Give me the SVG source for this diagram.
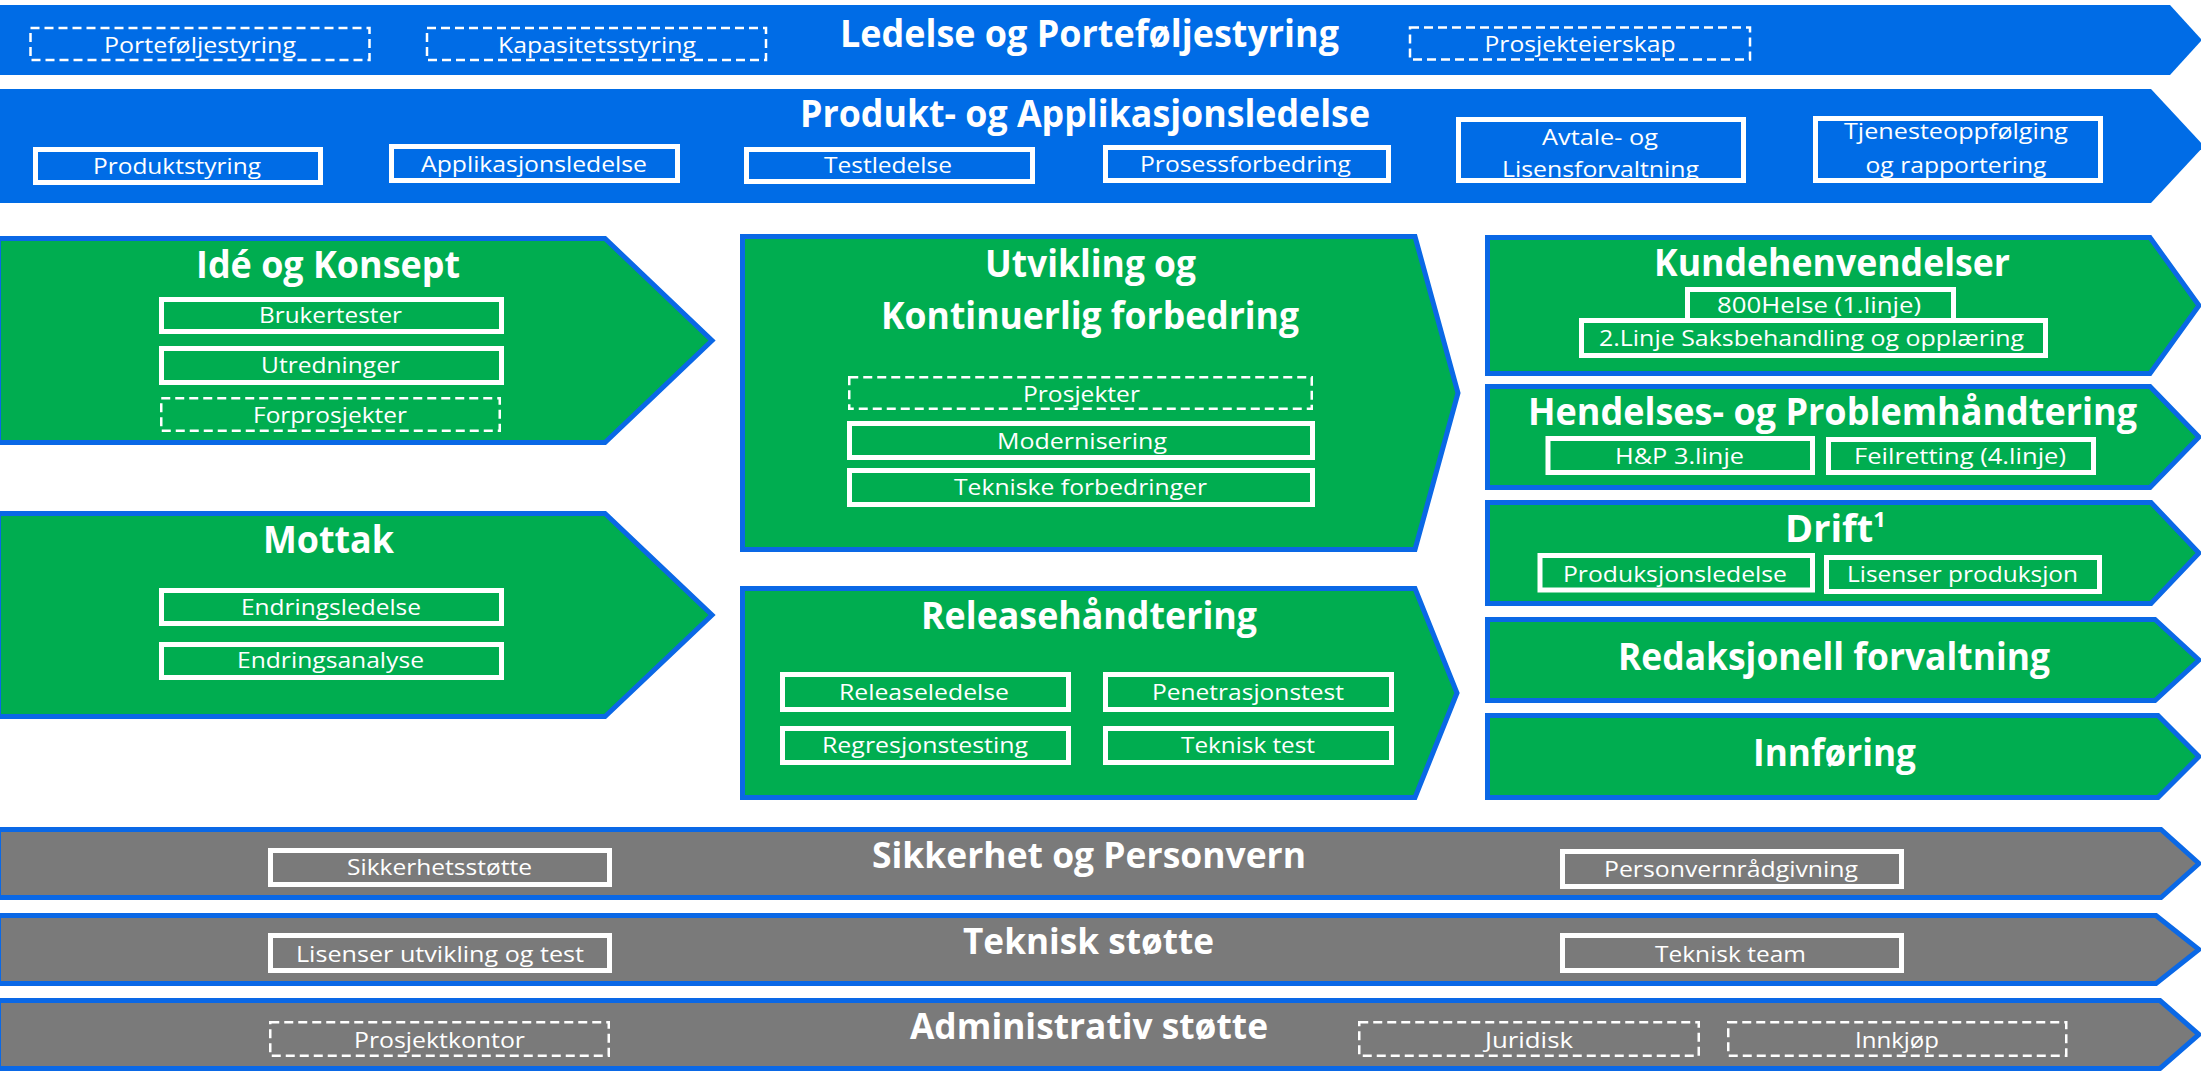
<svg xmlns="http://www.w3.org/2000/svg" width="2201" height="1073" viewBox="0 0 2201 1073">
  <style>
    .band { fill: #006CE6; }
    .proc { fill: #00AD50; stroke: #0A68E6; stroke-width: 5; }
    .supp { fill: #7A7A7A; stroke: #0A68E6; stroke-width: 5; }
    .box { fill: none; stroke: #FFFFFF; stroke-width: 5; }
    .dash { fill: none; stroke: #FFFFFF; stroke-width: 2.5; stroke-dasharray: 9 5; }
    text { font-family: "Open Sans", "Liberation Sans", sans-serif; fill: #FFFFFF; text-anchor: middle; }
    .lbl { font-size: 22px; }
    .ttl { font-size: 38px; font-weight: 700; }
  </style>
  <rect width="2201" height="1073" fill="#FFFFFF"/>

  <!-- Governance bands -->
  <g id="ledelse">
    <polygon class="band" points="-2,5 2170,5 2202,40 2170,75 -2,75"/>
    <text class="ttl" x="1089.5" y="47" textLength="499" lengthAdjust="spacingAndGlyphs">Ledelse og Porteføljestyring</text>
    <text class="lbl" x="200" y="53" textLength="192" lengthAdjust="spacingAndGlyphs">Porteføljestyring</text>
    <rect class="dash" x="30.5" y="28" width="339" height="32"/>
    <text class="lbl" x="597" y="53" textLength="198" lengthAdjust="spacingAndGlyphs">Kapasitetsstyring</text>
    <rect class="dash" x="427" y="28" width="339" height="32"/>
    <text class="lbl" x="1580" y="52" textLength="191" lengthAdjust="spacingAndGlyphs">Prosjekteierskap</text>
    <rect class="dash" x="1410" y="27.5" width="340" height="32"/>
  </g>

  <g id="produkt">
    <polygon class="band" points="-2,89 2151,89 2204,146 2151,203 -2,203"/>
    <text class="ttl" x="1085" y="127" textLength="570" lengthAdjust="spacingAndGlyphs">Produkt- og Applikasjonsledelse</text>
    <text class="lbl" x="177" y="174" textLength="168" lengthAdjust="spacingAndGlyphs">Produktstyring</text>
    <rect class="box" x="35.5" y="149.5" width="285" height="33"/>
    <text class="lbl" x="534" y="172" textLength="226" lengthAdjust="spacingAndGlyphs">Applikasjonsledelse</text>
    <rect class="box" x="391.5" y="146.5" width="286" height="34"/>
    <text class="lbl" x="888" y="173" textLength="128" lengthAdjust="spacingAndGlyphs">Testledelse</text>
    <rect class="box" x="746.5" y="149.5" width="286" height="32"/>
    <text class="lbl" x="1245.5" y="172" textLength="211" lengthAdjust="spacingAndGlyphs">Prosessforbedring</text>
    <rect class="box" x="1105.5" y="147.5" width="283" height="33"/>
    <text class="lbl" x="1600" y="145" textLength="116" lengthAdjust="spacingAndGlyphs">Avtale- og</text>
    <text class="lbl" x="1600.5" y="177" textLength="197" lengthAdjust="spacingAndGlyphs">Lisensforvaltning</text>
    <rect class="box" x="1458.5" y="119.5" width="285" height="61"/>
    <text class="lbl" x="1956" y="139" textLength="224" lengthAdjust="spacingAndGlyphs">Tjenesteoppfølging</text>
    <text class="lbl" x="1956" y="173" textLength="181" lengthAdjust="spacingAndGlyphs">og rapportering</text>
    <rect class="box" x="1815.5" y="118.5" width="285" height="62"/>
  </g>

  <!-- Left column -->
  <g id="ide-og-konsept">
    <polygon class="proc" points="-1.5,238.5 605,238.5 712,340.5 605,442.5 -1.5,442.5"/>
    <text class="ttl" x="328" y="278" textLength="264" lengthAdjust="spacingAndGlyphs">Idé og Konsept</text>
    <text class="lbl" x="330.5" y="323" textLength="143" lengthAdjust="spacingAndGlyphs">Brukertester</text>
    <rect class="box" x="161.5" y="299.5" width="340" height="32"/>
    <text class="lbl" x="330.5" y="373" textLength="139" lengthAdjust="spacingAndGlyphs">Utredninger</text>
    <rect class="box" x="161.5" y="348.5" width="340" height="34"/>
    <text class="lbl" x="330" y="423" textLength="154" lengthAdjust="spacingAndGlyphs">Forprosjekter</text>
    <rect class="dash" x="161.25" y="398.25" width="338.5" height="32.5"/>
  </g>

  <g id="mottak">
    <polygon class="proc" points="-1.5,513.5 605,513.5 712,615 605,716.5 -1.5,716.5"/>
    <text class="ttl" x="328.5" y="553" textLength="131" lengthAdjust="spacingAndGlyphs">Mottak</text>
    <text class="lbl" x="331" y="615" textLength="180" lengthAdjust="spacingAndGlyphs">Endringsledelse</text>
    <rect class="box" x="161.5" y="590.5" width="340" height="33"/>
    <text class="lbl" x="330.5" y="668" textLength="187" lengthAdjust="spacingAndGlyphs">Endringsanalyse</text>
    <rect class="box" x="161.5" y="644.5" width="340" height="33"/>
  </g>

  <!-- Middle column -->
  <g id="utvikling">
    <polygon class="proc" points="742.5,236.5 1415,236.5 1458,393 1415,549.5 742.5,549.5"/>
    <text class="ttl" x="1090.5" y="277" textLength="211" lengthAdjust="spacingAndGlyphs">Utvikling og</text>
    <text class="ttl" x="1090" y="329" textLength="418" lengthAdjust="spacingAndGlyphs">Kontinuerlig forbedring</text>
    <text class="lbl" x="1081.5" y="402" textLength="117" lengthAdjust="spacingAndGlyphs">Prosjekter</text>
    <rect class="dash" x="849.25" y="377.25" width="462.5" height="31.5"/>
    <text class="lbl" x="1082" y="449" textLength="170" lengthAdjust="spacingAndGlyphs">Modernisering</text>
    <rect class="box" x="849.5" y="423.5" width="463" height="34"/>
    <text class="lbl" x="1080.5" y="494.5" textLength="253" lengthAdjust="spacingAndGlyphs">Tekniske forbedringer</text>
    <rect class="box" x="849.5" y="470.5" width="463" height="34"/>
  </g>

  <g id="releasehandtering">
    <polygon class="proc" points="742.5,588.5 1415,588.5 1457,693 1415,797.5 742.5,797.5"/>
    <text class="ttl" x="1089" y="629" textLength="336" lengthAdjust="spacingAndGlyphs">Releasehåndtering</text>
    <text class="lbl" x="924" y="700" textLength="170" lengthAdjust="spacingAndGlyphs">Releaseledelse</text>
    <rect class="box" x="782.5" y="674.5" width="286" height="35"/>
    <text class="lbl" x="1248" y="700" textLength="192" lengthAdjust="spacingAndGlyphs">Penetrasjonstest</text>
    <rect class="box" x="1105.5" y="674.5" width="286" height="35"/>
    <text class="lbl" x="925" y="753" textLength="206" lengthAdjust="spacingAndGlyphs">Regresjonstesting</text>
    <rect class="box" x="782.5" y="728.5" width="286" height="34"/>
    <text class="lbl" x="1248" y="753" textLength="134" lengthAdjust="spacingAndGlyphs">Teknisk test</text>
    <rect class="box" x="1105.5" y="728.5" width="286" height="34"/>
  </g>

  <!-- Right column -->
  <g id="kundehenvendelser">
    <polygon class="proc" points="1487.5,237.5 2150,237.5 2199,305.5 2150,373.5 1487.5,373.5"/>
    <text class="ttl" x="1832" y="275.5" textLength="356" lengthAdjust="spacingAndGlyphs">Kundehenvendelser</text>
    <text class="lbl" x="1819" y="313" textLength="204" lengthAdjust="spacingAndGlyphs">800Helse (1.linje)</text>
    <rect class="box" x="1687.5" y="289.5" width="266" height="31"/>
    <text class="lbl" x="1811.5" y="346" textLength="425" lengthAdjust="spacingAndGlyphs">2.Linje Saksbehandling og opplæring</text>
    <rect class="box" x="1581.5" y="320.5" width="464" height="35"/>
  </g>

  <g id="hendelser">
    <polygon class="proc" points="1487.5,386.5 2150,386.5 2199,437 2150,487.5 1487.5,487.5"/>
    <text class="ttl" x="1832.5" y="425" textLength="609" lengthAdjust="spacingAndGlyphs">Hendelses- og Problemhåndtering</text>
    <text class="lbl" x="1679.5" y="464" textLength="129" lengthAdjust="spacingAndGlyphs">H&amp;P 3.linje</text>
    <rect class="box" x="1548" y="438.5" width="264.5" height="34"/>
    <text class="lbl" x="1960" y="464" textLength="212" lengthAdjust="spacingAndGlyphs">Feilretting (4.linje)</text>
    <rect class="box" x="1828.5" y="439.5" width="265" height="33"/>
  </g>

  <g id="drift">
    <polygon class="proc" points="1487.5,502.5 2151,502.5 2199,553 2151,603.5 1487.5,603.5"/>
    <text class="ttl" x="1785" y="542" style="text-anchor:start">Drift<tspan dy="-15" font-size="22">1</tspan></text>
    <text class="lbl" x="1675" y="582" textLength="224" lengthAdjust="spacingAndGlyphs">Produksjonsledelse</text>
    <rect class="box" x="1540" y="555.5" width="272.5" height="34.5"/>
    <text class="lbl" x="1962.5" y="582" textLength="231" lengthAdjust="spacingAndGlyphs">Lisenser produksjon</text>
    <rect class="box" x="1826.5" y="557.5" width="273" height="34"/>
  </g>

  <g id="redaksjonell">
    <polygon class="proc" points="1487.5,619.5 2155,619.5 2199,660 2155,700.5 1487.5,700.5"/>
    <text class="ttl" x="1834" y="669.5" textLength="432" lengthAdjust="spacingAndGlyphs">Redaksjonell forvaltning</text>
  </g>

  <g id="innforing">
    <polygon class="proc" points="1487.5,715.5 2158,715.5 2199,756.5 2158,797.5 1487.5,797.5"/>
    <text class="ttl" x="1834.5" y="766" textLength="163" lengthAdjust="spacingAndGlyphs">Innføring</text>
  </g>

  <!-- Support bands -->
  <g id="sikkerhet">
    <polygon class="supp" points="-1.5,829.5 2161,829.5 2199,863.5 2161,897.5 -1.5,897.5"/>
    <text class="ttl" x="1089" y="868" style="font-size:36px" textLength="434" lengthAdjust="spacingAndGlyphs">Sikkerhet og Personvern</text>
    <text class="lbl" x="439.5" y="875" textLength="185" lengthAdjust="spacingAndGlyphs">Sikkerhetsstøtte</text>
    <rect class="box" x="270.5" y="850.5" width="339" height="34"/>
    <text class="lbl" x="1731" y="877" textLength="254" lengthAdjust="spacingAndGlyphs">Personvernrådgivning</text>
    <rect class="box" x="1562.5" y="851.5" width="339" height="35"/>
  </g>

  <g id="teknisk-stotte">
    <polygon class="supp" points="-1.5,915.5 2156,915.5 2199,949.5 2156,983.5 -1.5,983.5"/>
    <text class="ttl" x="1088.5" y="954" style="font-size:36px" textLength="251" lengthAdjust="spacingAndGlyphs">Teknisk støtte</text>
    <text class="lbl" x="440" y="962" textLength="288" lengthAdjust="spacingAndGlyphs">Lisenser utvikling og test</text>
    <rect class="box" x="270.5" y="935.5" width="339" height="35"/>
    <text class="lbl" x="1730.5" y="962" textLength="151" lengthAdjust="spacingAndGlyphs">Teknisk team</text>
    <rect class="box" x="1562.5" y="935.5" width="339" height="35"/>
  </g>

  <g id="administrativ-stotte">
    <polygon class="supp" points="-1.5,1000.5 2160,1000.5 2199,1034.5 2160,1068.5 -1.5,1068.5"/>
    <text class="ttl" x="1089" y="1039" style="font-size:36px" textLength="358" lengthAdjust="spacingAndGlyphs">Administrativ støtte</text>
    <text class="lbl" x="439.5" y="1048" textLength="171" lengthAdjust="spacingAndGlyphs">Prosjektkontor</text>
    <rect class="dash" x="270.25" y="1022.25" width="338.5" height="33.5"/>
    <text class="lbl" x="1529" y="1048" textLength="88" lengthAdjust="spacingAndGlyphs">Juridisk</text>
    <rect class="dash" x="1359.25" y="1022.25" width="339.5" height="33.5"/>
    <text class="lbl" x="1897" y="1048" textLength="84" lengthAdjust="spacingAndGlyphs">Innkjøp</text>
    <rect class="dash" x="1728.25" y="1022.25" width="338" height="33.5"/>
  </g>

  <g id="connectors"/>
</svg>
